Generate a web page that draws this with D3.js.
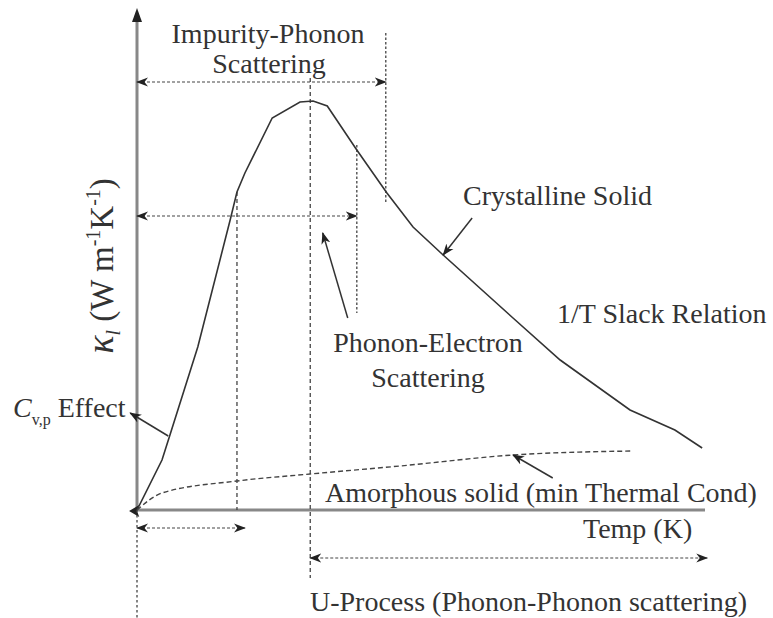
<!DOCTYPE html>
<html><head><meta charset="utf-8">
<script src="https://cdn.jsdelivr.net/npm/d3@7"></script>
<style>
html,body{margin:0;padding:0;background:#fff;}
svg{display:block;font-family:"Liberation Serif","Times New Roman",serif;}
text{fill:#333;}
</style></head>
<body>
<svg id="c" width="773" height="618"></svg>
<script>
// Schematic data (arbitrary units: T 0-100, kappa 0-100)
const crystT = [0, 4.4, 5.8, 10.7, 16.4, 17.6, 19.0, 23.8, 28.7, 31.0, 33.5, 38.7, 44.0, 48.6, 53.9, 66.2, 74.5, 86.8, 94.7, 99.5];
const crystK = [0, 10, 15, 32.6, 58, 63.6, 67.4, 78.4, 81.6, 81.8, 80.8, 72, 63.4, 56.6, 51, 38.4, 30, 20, 16, 12.4];
const amorT = [0, 4.4, 17.6, 30.5, 46.3, 66.2, 87.3];
const amorK = [0, 3.4, 5.8, 7.2, 8.8, 11, 11.8];
// vertical guide lines: x position, y from, y to, style
const guideX = [30.5, 17.6, 38.7, 43.8, 0];
const guideY0 = [86.4, 63.6, 73, 95.4, 0];
const guideY1 = [-13.6, 0, 39.4, 61.4, -21.6];
const guideDash = ["4,3", "4,3", "2.5,2", "2.5,2", "2.5,2.5"];
// horizontal range arrows: y, x from, x to
const rangeY = [85.6, 58.8, -3.6, -9.6];
const rangeX0 = [0, 0, 0, 30.5];
const rangeX1 = [43.8, 38.7, 19, 100.4];
// annotation pointer arrows (from -> to)
const ptrFromT = [5.5, 59, 37.1, 73.2];
const ptrFromK = [14.8, 58.4, 38.4, 6.4];
const ptrToT = [-1.2, 53.9, 32.7, 66.2];
const ptrToK = [19.4, 51, 55.4, 11];

const svg = d3.select("#c");
const x = d3.scaleLinear().domain([0, 100]).range([137, 705]);
const y = d3.scaleLinear().domain([0, 100]).range([510, 10]);
const ink = "#333";

const defs = svg.append("defs");
defs.append("marker").attr("id", "ah").attr("viewBox", "0 -5 12 10")
  .attr("refX", 11).attr("refY", 0).attr("markerWidth", 12).attr("markerHeight", 10)
  .attr("markerUnits", "userSpaceOnUse").attr("orient", "auto-start-reverse")
  .append("path").attr("d", "M0,-4.5L12,0L0,4.5L3.5,0Z").attr("fill", "#222");

// axes
const axisColor = "#888";
svg.append("line").attr("x1", x(0)).attr("y1", y(0)).attr("x2", x(0)).attr("y2", y(98.6))
  .attr("stroke", axisColor).attr("stroke-width", 3);
svg.append("path").attr("d", `M${x(0)},${y(100.4)}L${x(0)-5},${y(97.6)}L${x(0)+5},${y(97.6)}Z`).attr("fill", "#222");
svg.append("line").attr("x1", x(0)).attr("y1", y(0)).attr("x2", x(100)).attr("y2", y(0))
  .attr("stroke", axisColor).attr("stroke-width", 3);
svg.append("path").attr("d", `M${x(-1.4)},${y(-0.2)}L${x(0.4)},${y(1.0)}L${x(0)},${y(-0.2)}L${x(0.4)},${y(-1.4)}Z`).attr("fill", "#222");

// vertical guides
guideX.forEach((gx, i) => {
  svg.append("line").attr("x1", x(gx)).attr("x2", x(gx)).attr("y1", y(guideY0[i])).attr("y2", y(guideY1[i]))
    .attr("stroke", "#444").attr("stroke-width", 1.3).attr("stroke-dasharray", guideDash[i]);
});

// horizontal range arrows
rangeY.forEach((ry, i) => {
  svg.append("line").attr("x1", x(rangeX0[i])).attr("x2", x(rangeX1[i])).attr("y1", y(ry)).attr("y2", y(ry))
    .attr("stroke", "#444").attr("stroke-width", 1.2).attr("stroke-dasharray", "3,2")
    .attr("marker-start", "url(#ah)").attr("marker-end", "url(#ah)");
});

// curves
const line = d3.line().x(d => x(d[0])).y(d => y(d[1])).curve(d3.curveLinear);
svg.append("path").datum(crystT.map((t, i) => [t, crystK[i]])).attr("d", line)
  .attr("fill", "none").attr("stroke", ink).attr("stroke-width", 1.6);
svg.append("path").datum(amorT.map((t, i) => [t, amorK[i]])).attr("d", d3.line().x(d => x(d[0])).y(d => y(d[1])).curve(d3.curveMonotoneX))
  .attr("fill", "none").attr("stroke", "#444").attr("stroke-width", 1.4).attr("stroke-dasharray", "5,3");

// pointer arrows
ptrFromT.forEach((t, i) => {
  svg.append("line").attr("x1", x(t)).attr("y1", y(ptrFromK[i])).attr("x2", x(ptrToT[i])).attr("y2", y(ptrToK[i]))
    .attr("stroke", ink).attr("stroke-width", 1.5).attr("marker-end", "url(#ah)");
});

// texts
const fs = 28;
function label(txt, px, py, anchor) {
  return svg.append("text").attr("x", px).attr("y", py).attr("font-size", fs)
    .attr("text-anchor", anchor || "start").text(txt);
}
label("Impurity-Phonon", 268, 43, "middle");
label("Scattering", 269, 73, "middle");
label("Crystalline Solid", 463, 205);
label("1/T Slack Relation", 557, 323);
label("Phonon-Electron", 428, 352, "middle");
label("Scattering", 428, 387, "middle");
label("Amorphous solid (min Thermal Cond)", 325, 502);
label("Temp (K)", 583, 538);
label("U-Process (Phonon-Phonon scattering)", 310, 611);

const cv = svg.append("text").attr("x", 13).attr("y", 417).attr("font-size", fs);
cv.append("tspan").attr("font-style", "italic").text("C");
cv.append("tspan").attr("font-size", 16).attr("dy", 8).text("v,p");
cv.append("tspan").attr("dy", -8).text(" Effect");

const yl = svg.append("text").attr("transform", "translate(113,266) rotate(-90)")
  .attr("text-anchor", "middle").attr("font-size", 33);
yl.append("tspan").attr("font-style", "italic").attr("font-size", 38).text("κ");
yl.append("tspan").attr("font-style", "italic").attr("font-size", 20).attr("dy", 7).text("l");
yl.append("tspan").attr("dy", -7).text(" (W m");
yl.append("tspan").attr("font-size", 20).attr("dy", -13).text("-1");
yl.append("tspan").attr("dy", 13).text("K");
yl.append("tspan").attr("font-size", 20).attr("dy", -13).text("-1");
yl.append("tspan").attr("dy", 13).text(")");
</script>
</body></html>
